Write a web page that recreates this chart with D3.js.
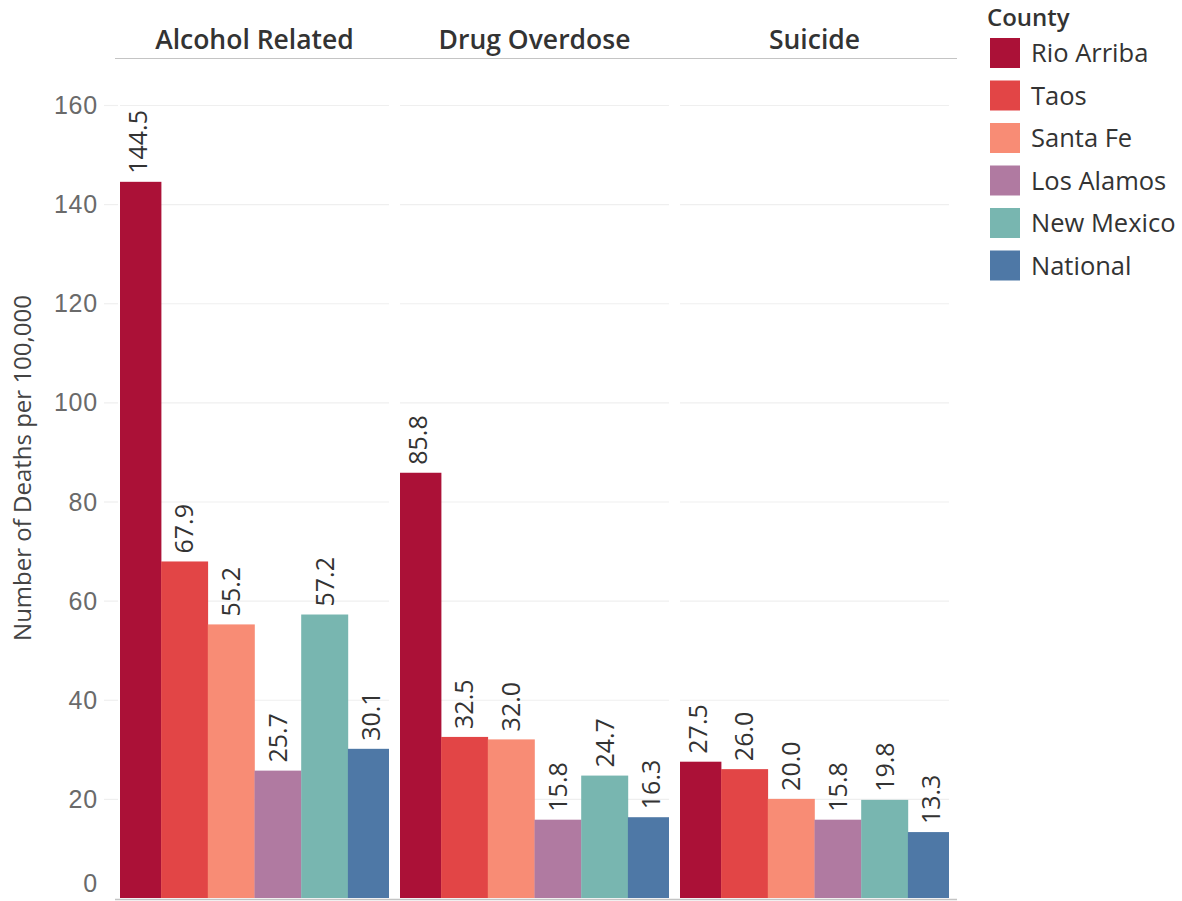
<!DOCTYPE html>
<html>
<head>
<meta charset="utf-8">
<script src="https://cdn.jsdelivr.net/npm/d3@7"></script>
<style>
  html, body { margin: 0; padding: 0; background: #fff; }
  svg { display: block; }
</style>
</head>
<body>
<div id="chart"></div>
<script>
const causes = ["Alcohol Related", "Drug Overdose", "Suicide"];
const counties = ["Rio Arriba", "Taos", "Santa Fe", "Los Alamos", "New Mexico", "National"];
const colors = ["#ab1137", "#e24546", "#f88c75", "#b07aa1", "#78b6b0", "#4e78a6"];
const alcoholValues = [144.5, 67.9, 55.2, 25.7, 57.2, 30.1];
const drugValues = [85.8, 32.5, 32.0, 15.8, 24.7, 16.3];
const suicideValues = [27.5, 26.0, 20.0, 15.8, 19.8, 13.3];
const yTicks = [0, 20, 40, 60, 80, 100, 120, 140, 160];
const valuesByCause = [alcoholValues, drugValues, suicideValues];

const W = 1182, H = 901;
const svg = d3.select("#chart").append("svg").attr("width", W).attr("height", H);
const font = "'Open Sans', 'Noto Sans', sans-serif";

const y = d3.scaleLinear().domain([0, 160]).range([898, 105]);
const panelX = d3.scaleBand().domain(causes).range([120, 949]).paddingInner(11 / 280).paddingOuter(0);
const panelW = panelX.bandwidth();
const overflow = 5.6;
const color = d3.scaleOrdinal().domain(counties).range(colors);

// Header line
svg.append("line").attr("x1", 115).attr("x2", 957).attr("y1", 58.5).attr("y2", 58.5)
  .attr("stroke", "#c4c4c4").attr("stroke-width", 1.2);

// Header titles
causes.forEach(c => {
  svg.append("text").attr("x", panelX(c) + panelW / 2).attr("y", 49)
    .attr("text-anchor", "middle").attr("font-family", font).attr("font-weight", 600)
    .attr("font-size", 26.5).attr("fill", "#333").text(c);
});

// Gridlines
causes.forEach((c, i) => {
  const g = svg.append("g");
  g.selectAll("line").data(yTicks.filter(t => t > 0)).enter().append("line")
    .attr("x1", panelX(c)).attr("x2", panelX(c) + panelW)
    .attr("y1", d => y(d) + 0.5).attr("y2", d => y(d) + 0.5)
    .attr("stroke", "#efefef").attr("stroke-width", 1.2);
});
// small tick stubs on the left
svg.append("g").selectAll("line").data(yTicks.filter(t => t > 0)).enter().append("line")
  .attr("x1", 104).attr("x2", 118).attr("y1", d => y(d) + 0.5).attr("y2", d => y(d) + 0.5)
  .attr("stroke", "#efefef").attr("stroke-width", 1.2);

// Y axis labels
svg.append("g").selectAll("text").data(yTicks).enter().append("text")
  .attr("x", 98).attr("y", d => Math.min(y(d), 883)).attr("dy", "0.36em")
  .attr("text-anchor", "end").attr("font-family", "'Liberation Sans', Arial, sans-serif")
  .attr("font-size", 25).attr("letter-spacing", 0.8).attr("fill", "#6a6a6a").text(d => d);

// Y axis title
svg.append("text").attr("transform", "translate(31,468) rotate(-90)")
  .attr("text-anchor", "middle").attr("font-family", font).attr("font-size", 24)
  .attr("fill", "#444").text("Number of Deaths per 100,000");

// Bars
const defs = svg.append("defs");
causes.forEach((c, i) => {
  const px = panelX(c);
  defs.append("clipPath").attr("id", "clip" + i).append("rect")
    .attr("x", px).attr("y", 0).attr("width", panelW).attr("height", H);
  const x = d3.scaleBand().domain(counties).range([px - overflow, px + panelW + overflow]).padding(0);
  const data = counties.map((k, j) => ({ county: k, value: valuesByCause[i][j] }));
  const g = svg.append("g");
  g.append("g").attr("clip-path", "url(#clip" + i + ")")
    .selectAll("rect").data(data).enter().append("rect")
    .attr("x", d => x(d.county)).attr("width", x.bandwidth() + 0.3)
    .attr("y", d => y(d.value)).attr("height", d => y(0) - y(d.value))
    .attr("fill", d => color(d.county));
  g.selectAll("text").data(data).enter().append("text")
    .attr("transform", d => `translate(${x(d.county) + x.bandwidth() / 2},${y(d.value) - 8}) rotate(-90)`)
    .attr("dy", "0.36em").attr("text-anchor", "start")
    .attr("font-family", font).attr("font-size", 25).attr("fill", "#333")
    .text(d => d.value.toFixed(1));
});

// Bottom axis line
svg.append("line").attr("x1", 115).attr("x2", 957).attr("y1", 899.5).attr("y2", 899.5)
  .attr("stroke", "#c4c4c4").attr("stroke-width", 1.5);

// Legend
const lg = svg.append("g");
lg.append("text").attr("x", 987).attr("y", 26).attr("font-family", font).attr("font-weight", 600)
  .attr("font-size", 24).attr("fill", "#333").text("County");
const ly = d3.scaleBand().domain(counties).range([38, 38 + 42.5 * 6]).padding(0);
counties.forEach(k => {
  lg.append("rect").attr("x", 990).attr("y", ly(k)).attr("width", 30).attr("height", 30)
    .attr("fill", color(k));
  lg.append("text").attr("x", 1031).attr("y", ly(k) + 15).attr("dy", "0.36em")
    .attr("font-family", font).attr("font-size", 25.5).attr("fill", "#333").text(k);
});
</script>
</body>
</html>
